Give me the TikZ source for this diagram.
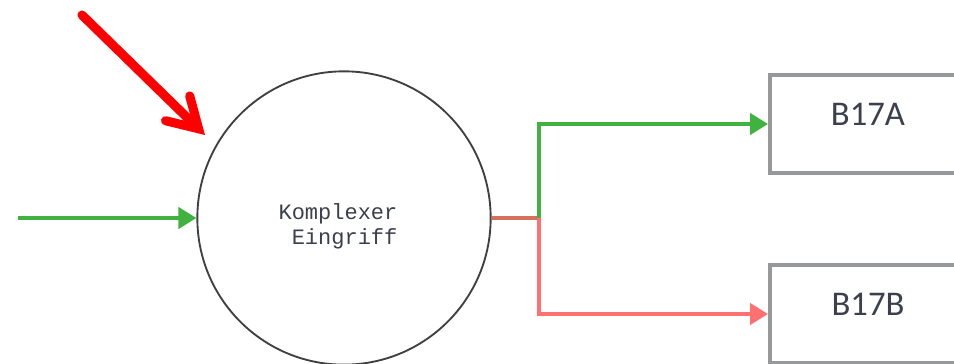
\documentclass[tikz,border=0pt]{standalone}
\usepackage{fontspec}
\newfontfamily\eingrifffont{Liberation Mono}
\newfontfamily\boxfont{Carlito}
\usetikzlibrary{arrows.meta}
\definecolor{gruen}{RGB}{64,178,64}
\definecolor{lachs}{RGB}{255,112,112}
\definecolor{stubrot}{RGB}{214,112,92}
\definecolor{rahmen}{RGB}{150,152,154}
\definecolor{schrift}{RGB}{60,64,78}
\tikzset{
	eingriff/.style={circle,draw=black!75,line width=1.4pt,minimum size=220pt,inner sep=0pt},
	eingrifftext/.style={align=right,text=schrift,xshift=-4.5pt,yshift=-6pt,
		font=\eingrifffont\fontsize{16.5}{19}\selectfont},
	zielbox/.style={draw=rahmen,line width=3pt,minimum width=147pt,minimum height=73.5pt,
		text=schrift,font=\boxfont\fontsize{26}{30}\selectfont,text height=14pt,text depth=12pt},
	pfeil/.style={line width=2.6pt,-{Triangle[length=13.5pt,width=16pt]}},
	signal/.style={red,line width=6.8pt,line cap=round,
		-{Straight Barb[length=22pt,width=26pt,line cap=round,line join=miter]}}
}
\begin{document}
\begin{tikzpicture}[x=0.75pt,y=-0.75pt]
	\clip (0,0) rectangle (954,364);
	\node[eingriff,label={[eingrifftext]center:Komplexer\\Eingriff}] (ein) at (344,218) {};
	\node[zielbox] (b17a) at (868,124) {B17A};
	\node[zielbox] (b17b) at (868,314) {B17B};
	\coordinate (start) at (18,218);
	\coordinate (gabel) at (539,218);
	\coordinate (hinweis) at (82,15);
	\coordinate (hinweisend) at (205,135);
	% eingang und verzweigung
	\draw[gruen,pfeil] (start) -- (ein);
	\draw[stubrot,line width=2.6pt] (ein) -- (gabel);
	\draw[gruen,pfeil] (gabel) |- (b17a);
	\draw[lachs,pfeil] (gabel) |- (b17b);
	\draw[signal] (hinweis) -- (hinweisend);
\end{tikzpicture}
\end{document}
